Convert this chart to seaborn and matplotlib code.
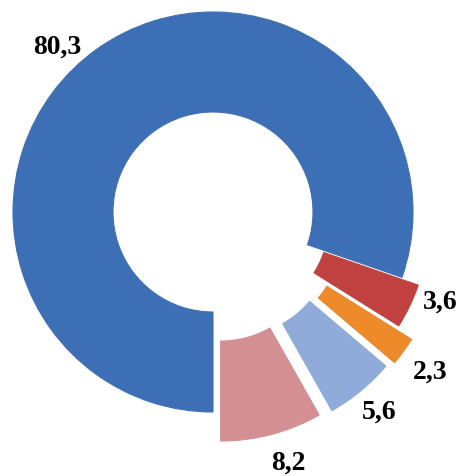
import numpy as np
import matplotlib
matplotlib.use('Agg')
import matplotlib.pyplot as plt
import seaborn as sns

# Dades
valors = [80.3, 3.6, 2.3, 5.6, 8.2]
etiquetes = ['80,3', '3,6', '2,3', '5,6', '8,2']
colors = ['#3C6FB6', '#C0413F', '#EE8A2A', '#8EABD9', '#D48F93']
explode = [0.0, 0.09, 0.18, 0.16, 0.15]

sns.set_theme(style='white')
plt.rcParams['font.family'] = ['Liberation Serif', 'DejaVu Serif']

fig = plt.figure(figsize=(4.6, 4.77), dpi=100)
ax = fig.add_axes([0, 0, 1, 1])

wedges, _ = ax.pie(valors, colors=colors, explode=explode, startangle=-90,
                   counterclock=False, radius=1.0,
                   wedgeprops=dict(width=0.5, edgecolor='none'))

# vora clara per donar relleu
for w, c in zip(wedges, colors):
    w.set_edgecolor(sns.desaturate(c, 0.9))
    w.set_linewidth(0.8)

# posicions de les etiquetes (en unitats del radi)
pos_etiquetes = [(-0.78, 0.83), (1.135, -0.445), (1.085, -0.795),
                 (0.83, -0.995), (0.375, -1.25)]
for txt, (x, y) in zip(etiquetes, pos_etiquetes):
    ax.text(x, y, txt, ha='center', va='center', fontsize=20,
            fontweight='bold', color='black')

ax.set_xlim(-213 / 200, (460 - 213) / 200)
ax.set_ylim(-(477 - 213) / 200, 213 / 200)
ax.set_aspect('equal')
ax.axis('off')

fig.savefig('out.png', dpi=100)
